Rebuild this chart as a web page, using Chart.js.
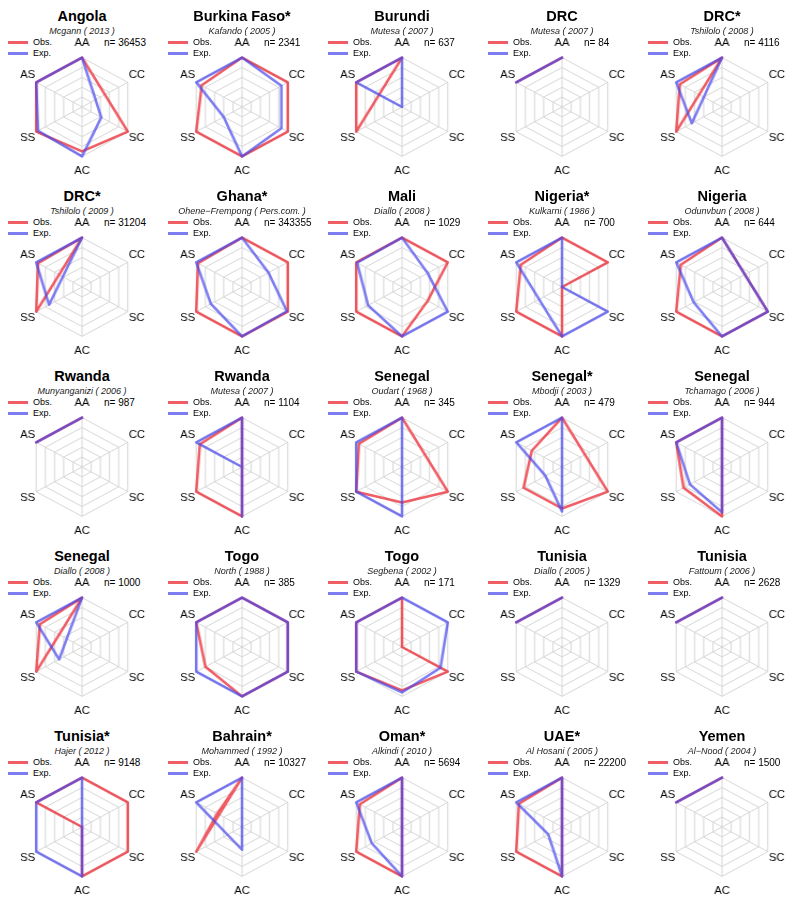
<!DOCTYPE html>
<html>
<head>
<meta charset="utf-8">
<script src="https://cdn.jsdelivr.net/npm/chart.js@4.4.1/dist/chart.umd.min.js"></script>
<style>
  body { margin: 0; background: #fff; font-family: "Liberation Sans", Arial, sans-serif; }
  #grid { display: grid; grid-template-columns: repeat(5, 160px); grid-template-rows: repeat(5, 180px); width: 800px; height: 908px; }
  .cell { position: relative; }
  .ttl { position: absolute; left: 0; width: 164px; top: 8px; text-align: center; font-weight: bold; font-size: 14.5px; line-height: 16px; }
  .sub { position: absolute; left: 0; width: 164px; top: 26px; text-align: center; font-style: italic; font-size: 9px; line-height: 11px; color: #222; }
  .leg { position: absolute; left: 8px; font-size: 9px; line-height: 10px; }
  .leg span { display: inline-block; width: 20px; height: 2.5px; vertical-align: middle; margin-right: 5px; }
  .nval { position: absolute; left: 104px; top: 37px; font-size: 10px; line-height: 12px; }
  .box { position: absolute; left: 0; top: 37px; width: 164px; height: 140px; transform: scaleX(1.07); transform-origin: 82px 50%; }
</style>
</head>
<body>
<div id="grid"></div>
<script>
// axes of every radar, clockwise from the top
const axisLabels = ['AA', 'CC', 'SC', 'AC', 'SS', 'AS'];

const countries = ['Angola', 'Burkina Faso*', 'Burundi', 'DRC', 'DRC*',
  'DRC*', 'Ghana*', 'Mali', 'Nigeria*', 'Nigeria',
  'Rwanda', 'Rwanda', 'Senegal', 'Senegal*', 'Senegal',
  'Senegal', 'Togo', 'Togo', 'Tunisia', 'Tunisia',
  'Tunisia*', 'Bahrain*', 'Oman*', 'UAE*', 'Yemen'];

const sources = ['Mcgann ( 2013 )', 'Kafando ( 2005 )', 'Mutesa ( 2007 )', 'Mutesa ( 2007 )', 'Tshilolo ( 2008 )',
  'Tshilolo ( 2009 )', 'Ohene\u2212Frempong ( Pers.com. )', 'Diallo ( 2008 )', 'Kulkarni ( 1986 )', 'Odunvbun ( 2008 )',
  'Munyanganizi ( 2006 )', 'Mutesa ( 2007 )', 'Oudart ( 1968 )', 'Mbodji ( 2003 )', 'Tchamago ( 2006 )',
  'Diallo ( 2008 )', 'North ( 1988 )', 'Segbena ( 2002 )', 'Diallo ( 2005 )', 'Fattoum ( 2006 )',
  'Hajer ( 2012 )', 'Mohammed ( 1992 )', 'Alkindi ( 2010 )', 'Al Hosani ( 2005 )', 'Al\u2212Nood ( 2004 )'];

const sampleSizes = [36453, 2341, 637, 84, 4116,
  31204, 343355, 1029, 700, 644,
  987, 1104, 345, 479, 944,
  1000, 385, 171, 1329, 2628,
  9148, 10327, 5694, 22200, 1500];

const N = null; // genotype not reported
const obsValues = [
  [5, N, 5, 4.5, 5, 5], [5, 5, 5, 5, 5, 4.4], [5, N, N, N, 5, 5], [5, N, N, N, N, 5], [5, N, N, N, 5, 4.6],
  [5, N, N, N, 5, 4.8], [5, 5, 5, 5, 5, 4.8], [5, 5, 2.8, 5, 5, 5], [5, 5, 0, 5, 5, 4.5], [5, N, 5, 5, 5, 4.5],
  [5, N, N, N, N, 5], [5, N, N, 5, 5, 4.6], [5, N, 5, 3.6, 5, 4.7], [5, N, 5, 4.2, 4.2, 3.3], [5, N, N, 5, 4.2, 5],
  [5, N, N, N, 5, 4.6], [5, 5, 5, 5, 4.0, 5], [5, 0, 5, 4.4, 5, 5], [5, N, N, N, N, 5], [5, N, N, N, N, 5],
  [5, 5, 5, 5, 0, 5], [5, N, N, N, 5, 2.7], [5, N, N, 5, 5, 4.6], [5, N, N, 5, 5, 4.7], [5, N, N, N, N, 5]
];
const expValues = [
  [5, N, 2.1, 5, 4.8, 5], [5, 4.3, 4.3, 5, 2.0, 5], [5, 0, 0, 0, 0, 5], [5, N, N, N, N, 5], [5, N, N, N, 3.3, 5],
  [5, N, N, N, 3.6, 5], [5, 2.9, 4.9, 5, 3.4, 5], [5, 2.8, 5, 5, 3.7, 4.9], [5, 0, 5, 5, N, 5], [5, N, 5, 5, 3.1, 5],
  [5, N, N, N, N, 5], [5, N, N, 5, 0, 5], [5, N, N, 5, 5, 5], [5, N, N, 4.5, 1.8, 5], [5, N, N, 4.6, 3.5, 5],
  [5, N, N, N, 2.5, 5], [5, 5, 5, 5, 5, 5], [5, 5, 4.2, 4.6, 5, 5], [5, N, N, N, N, 5], [5, N, N, N, N, 5],
  [5, N, N, 5, 5, 5], [5, N, N, 2.3, N, 5], [5, N, N, 5, 3.3, 5], [5, N, N, 5, 1.5, 5], [5, N, N, N, N, 5]
];

const OBS_COLOR = 'rgba(235, 40, 50, 0.75)';
const EXP_COLOR = 'rgba(70, 70, 235, 0.7)';
const GRID_COLOR = '#d6d6d6';

const grid = document.getElementById('grid');

countries.forEach((name, i) => {
  const cell = document.createElement('div');
  cell.className = 'cell';
  cell.innerHTML =
    `<div class="ttl">${name}</div>` +
    `<div class="sub">${sources[i]}</div>` +
    `<div class="leg" style="top:37px"><span style="background:${OBS_COLOR}"></span>Obs.</div>` +
    `<div class="leg" style="top:48px"><span style="background:${EXP_COLOR}"></span>Exp.</div>` +
    `<div class="nval">n= ${sampleSizes[i]}</div>` +
    `<div class="box"><canvas></canvas></div>`;
  grid.appendChild(cell);

  new Chart(cell.querySelector('canvas'), {
    type: 'radar',
    data: {
      labels: axisLabels,
      datasets: [
        // Exp. is painted over Obs. (lower order = drawn last)
        { label: 'Obs.', data: obsValues[i], order: 1, borderColor: OBS_COLOR, fill: false, borderWidth: 2.5, pointRadius: 0, spanGaps: true },
        { label: 'Exp.', data: expValues[i], order: 0, borderColor: EXP_COLOR, fill: false, borderWidth: 2.5, pointRadius: 0, spanGaps: true }
      ]
    },
    options: {
      responsive: true,
      maintainAspectRatio: false,
      animation: false,
      layout: { padding: 0 },
      elements: { line: { tension: 0, borderJoinStyle: 'round' } },
      plugins: { legend: { display: false }, tooltip: { enabled: false } },
      scales: {
        r: {
          min: 0, max: 5,
          ticks: { display: false, stepSize: 1 },
          grid: { color: GRID_COLOR, lineWidth: 1 },
          angleLines: { color: GRID_COLOR, lineWidth: 1 },
          pointLabels: {
            color: '#000',
            // AA / AC sit further from their vertex than the side labels
            padding: (ctx) => (ctx.index % 3 === 0 ? 8 : 1),
            font: { family: '"Liberation Sans", Arial, sans-serif', size: 10.5 }
          }
        }
      }
    }
  });
});
</script>
</body>
</html>
